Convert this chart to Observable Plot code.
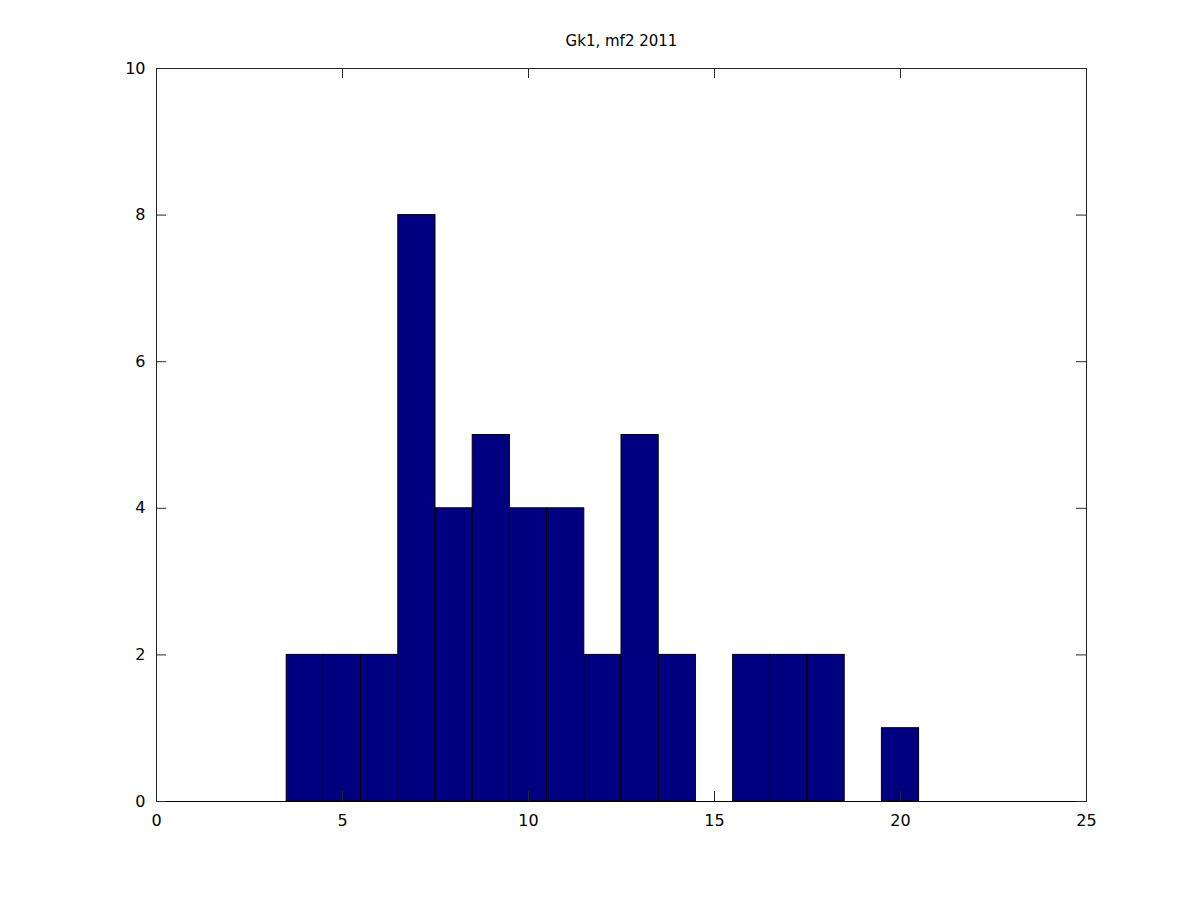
<!DOCTYPE html>
<html>
<head>
<meta charset="utf-8">
<script src="https://cdn.jsdelivr.net/npm/d3@7"></script>
<script src="https://cdn.jsdelivr.net/npm/@observablehq/plot@0.6"></script>
<style>
  html, body { margin: 0; padding: 0; background: #fff; }
  #chart { width: 1200px; height: 900px; }
  svg { font-family: "DejaVu Sans", sans-serif; }
</style>
</head>
<body>
<div id="chart"></div>
<script>
const title = "Gk1, mf2 2011";
const binCenters = [4, 5, 6, 7, 8, 9, 10, 11, 12, 13, 14, 16, 17, 18, 20];
const binCounts  = [2, 2, 2, 8, 4, 5, 4, 4, 2, 5, 2, 2, 2, 2, 1];
const xTicks = [0, 5, 10, 15, 20, 25];
const yTicks = [0, 2, 4, 6, 8, 10];
const binWidth = 1;

const bars = binCenters.map((c, i) => ({x1: c - binWidth / 2, x2: c + binWidth / 2, count: binCounts[i]}));

const W = 1200, H = 900;
const mL = 156, mR = 114, mT = 68, mB = 99;
const fw = W - mL - mR, fh = H - mT - mB;
const tl = 10;
const axisColor = "#262626";

const chart = Plot.plot({
  width: W,
  height: H,
  marginLeft: mL,
  marginRight: mR,
  marginTop: mT,
  marginBottom: mB,
  style: {fontFamily: "DejaVu Sans, sans-serif", fontSize: "16px", color: "#000", background: "#fff"},
  x: {domain: [0, 25]},
  y: {domain: [0, 10]},
  marks: [
    Plot.rect(bars, {x1: "x1", x2: "x2", y1: 0, y2: "count", fill: "#000080", stroke: "#000", strokeWidth: 1}),
    Plot.frame({stroke: axisColor, strokeWidth: 1}),
    Plot.ruleY([0], {stroke: "#000", strokeWidth: 1.2}),
    // inward ticks: bottom, top
    Plot.tickX(xTicks, {x: d => d, stroke: axisColor, insetTop: fh - tl}),
    Plot.tickX(xTicks, {x: d => d, stroke: axisColor, insetBottom: fh - tl}),
    // inward ticks: left, right
    Plot.tickY(yTicks, {y: d => d, stroke: axisColor, insetRight: fw - tl}),
    Plot.tickY(yTicks, {y: d => d, stroke: axisColor, insetLeft: fw - tl}),
    Plot.axisX(xTicks, {tickSize: 0, tickPadding: 13, fontSize: 16, label: null, tickFormat: d3.format("d")}),
    Plot.axisY(yTicks, {tickSize: 0, tickPadding: 11, fontSize: 16, label: null, tickFormat: d3.format("d")}),
    Plot.text([title], {frameAnchor: "top", dy: -33, text: d => d, fontSize: 15, fill: "#000"})
  ]
});
document.getElementById("chart").appendChild(chart);
</script>
</body>
</html>
